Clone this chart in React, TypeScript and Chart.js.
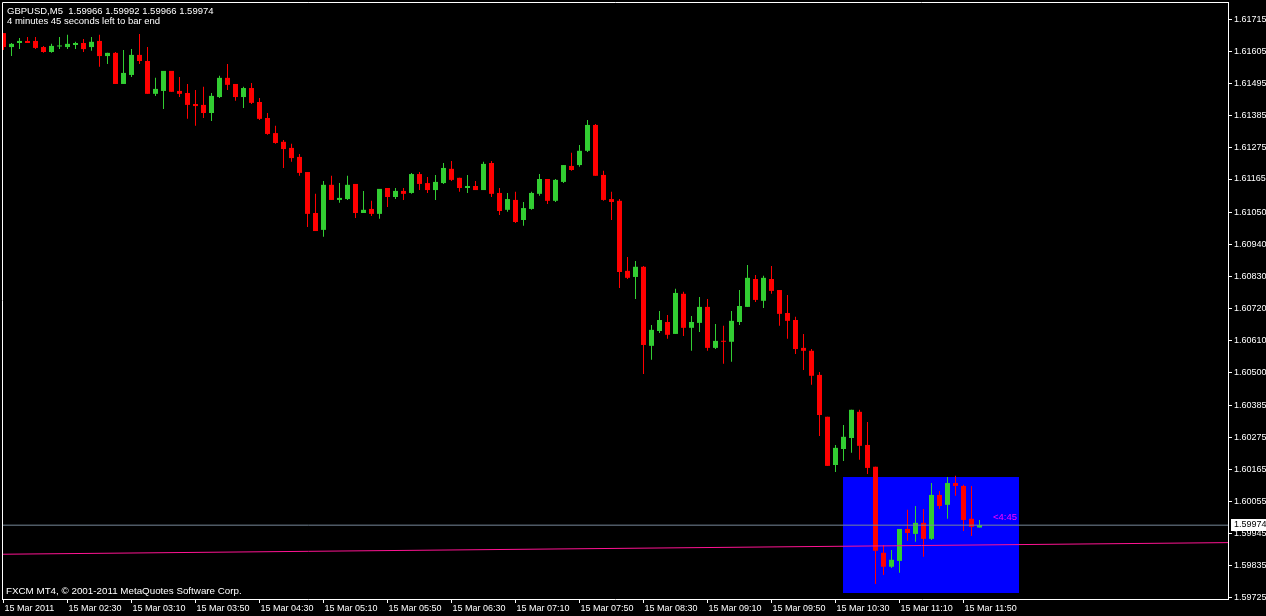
import React, { useEffect, useRef } from "react";
import { Chart, registerables } from "chart.js";

Chart.register(...registerables);

// ---------- data ----------
const SYMBOL = "GBPUSD,M5";

const open = [
  1.61667, 1.61619, 1.61633, 1.6164, 1.6164, 1.61619, 1.61602, 1.61621, 1.61619, 1.61626,
  1.61633, 1.61619, 1.6164, 1.61588, 1.61599, 1.61492, 1.61523, 1.61592, 1.61571, 1.61458,
  1.61468, 1.61537, 1.61468, 1.61461, 1.61423, 1.6142, 1.61392, 1.61447, 1.61513, 1.61492,
  1.61447, 1.61478, 1.6143, 1.61375, 1.61323, 1.61293, 1.61272, 1.61241, 1.61189, 1.61048,
  1.6099, 1.61145, 1.61093, 1.61096, 1.61148, 1.61048, 1.61062, 1.61045, 1.61134, 1.61103,
  1.61124, 1.61117, 1.61182, 1.61151, 1.61127, 1.61151, 1.612, 1.61169, 1.61134, 1.61141,
  1.61127, 1.6122, 1.61117, 1.61059, 1.61093, 1.61024, 1.61062, 1.61114, 1.61165, 1.6109,
  1.61155, 1.6121, 1.61213, 1.61262, 1.61351, 1.61179, 1.61096, 1.6109, 1.60849, 1.60828,
  1.60863, 1.60591, 1.60642, 1.60673, 1.60632, 1.6077, 1.60653, 1.6067, 1.60725, 1.60584,
  1.60608, 1.60605, 1.60673, 1.60725, 1.60821, 1.60746, 1.60821, 1.60783, 1.60704, 1.6068,
  1.60584, 1.60574, 1.60491, 1.60347, 1.60181, 1.60236, 1.60274, 1.60364, 1.6025, 1.60175,
  1.59879, 1.59831, 1.59851, 1.59961, 1.59944, 1.59982, 1.59927, 1.60078, 1.60044, 1.60119,
  1.60109, 1.59996, 1.59966,
];
const high = [
  1.61667, 1.61633, 1.6165, 1.61654, 1.61654, 1.61623, 1.6163, 1.61654, 1.61661, 1.61637,
  1.61647, 1.61654, 1.61661, 1.61599, 1.61602, 1.61609, 1.61612, 1.61664, 1.61619, 1.61513,
  1.61537, 1.61537, 1.61516, 1.61492, 1.61471, 1.61482, 1.61461, 1.6152, 1.61561, 1.61492,
  1.61482, 1.61495, 1.61444, 1.61392, 1.61348, 1.61299, 1.61286, 1.61251, 1.61189, 1.61114,
  1.61158, 1.61176, 1.61151, 1.61176, 1.61148, 1.61124, 1.6109, 1.61131, 1.61134, 1.61134,
  1.61134, 1.61186, 1.61189, 1.61172, 1.61179, 1.6122, 1.61227, 1.61169, 1.61179, 1.61158,
  1.61224, 1.61227, 1.61134, 1.61117, 1.61121, 1.61086, 1.61121, 1.61182, 1.61165, 1.61165,
  1.61213, 1.61255, 1.61282, 1.61368, 1.61354, 1.61193, 1.61121, 1.61096, 1.60897, 1.60883,
  1.60866, 1.60663, 1.60711, 1.60697, 1.60787, 1.60777, 1.60694, 1.60759, 1.60752, 1.60666,
  1.6066, 1.60711, 1.60783, 1.60869, 1.60835, 1.60832, 1.60866, 1.60783, 1.60766, 1.60691,
  1.60632, 1.6058, 1.60501, 1.60347, 1.6025, 1.60319, 1.60371, 1.60371, 1.60329, 1.60175,
  1.59906, 1.59889, 1.59961, 1.60027, 1.6004, 1.6003, 1.60119, 1.60092, 1.6014, 1.60144,
  1.60113, 1.60109, 1.59992,
];
const low = [
  1.61609, 1.61588, 1.61612, 1.61633, 1.61612, 1.61599, 1.61599, 1.61612, 1.61612, 1.61612,
  1.61602, 1.61606, 1.61551, 1.61561, 1.61492, 1.61492, 1.61516, 1.61561, 1.61458, 1.61451,
  1.61406, 1.61465, 1.61447, 1.61372, 1.61348, 1.61375, 1.61365, 1.61444, 1.61471, 1.61434,
  1.61409, 1.61423, 1.61368, 1.61317, 1.61286, 1.61203, 1.61224, 1.61176, 1.61, 1.60986,
  1.60966, 1.61093, 1.61083, 1.61093, 1.61031, 1.61048, 1.61038, 1.61028, 1.61069, 1.61096,
  1.61093, 1.61114, 1.61127, 1.61117, 1.61093, 1.61148, 1.61158, 1.61121, 1.61117, 1.61127,
  1.61127, 1.61103, 1.61041, 1.61052, 1.61014, 1.61004, 1.61059, 1.61107, 1.61079, 1.61086,
  1.61151, 1.61193, 1.61207, 1.61258, 1.61176, 1.6109, 1.61024, 1.6079, 1.60821, 1.60752,
  1.60494, 1.60543, 1.60635, 1.60615, 1.60632, 1.60625, 1.60574, 1.60639, 1.60574, 1.6058,
  1.60529, 1.60536, 1.60663, 1.60725, 1.60742, 1.60721, 1.6077, 1.6066, 1.60615, 1.60563,
  1.60508, 1.60457, 1.60281, 1.60178, 1.60157, 1.60195, 1.60223, 1.60199, 1.6015, 1.59772,
  1.59803, 1.59827, 1.5981, 1.5992, 1.59917, 1.59865, 1.59923, 1.6003, 1.59996, 1.60075,
  1.59954, 1.59937, 1.59966,
];
const close = [
  1.61619, 1.6163, 1.6164, 1.61633, 1.61616, 1.61602, 1.61623, 1.61623, 1.6163, 1.61633,
  1.61612, 1.61637, 1.61588, 1.61599, 1.61492, 1.6153, 1.61592, 1.61571, 1.61458, 1.61475,
  1.61537, 1.61465, 1.61458, 1.6142, 1.61416, 1.61392, 1.61451, 1.61513, 1.61489, 1.61447,
  1.61478, 1.61427, 1.61372, 1.6132, 1.61289, 1.61268, 1.61237, 1.61186, 1.61045, 1.60986,
  1.61145, 1.61093, 1.611, 1.61145, 1.61048, 1.61059, 1.61045, 1.61131, 1.61103, 1.61124,
  1.61114, 1.61182, 1.61148, 1.61127, 1.61155, 1.61203, 1.61162, 1.61134, 1.61141, 1.61127,
  1.61217, 1.61114, 1.61055, 1.61096, 1.61017, 1.61065, 1.61117, 1.61165, 1.6109, 1.61162,
  1.61213, 1.61196, 1.61262, 1.61351, 1.61176, 1.61093, 1.61086, 1.60845, 1.60825, 1.60863,
  1.60594, 1.60646, 1.6068, 1.60629, 1.60773, 1.60653, 1.60673, 1.60725, 1.60584, 1.60608,
  1.60605, 1.60677, 1.60728, 1.60825, 1.60749, 1.60825, 1.6078, 1.60701, 1.60677, 1.6058,
  1.60574, 1.60488, 1.60353, 1.60178, 1.6024, 1.60278, 1.60371, 1.60247, 1.60171, 1.59886,
  1.59831, 1.59855, 1.59961, 1.59947, 1.59982, 1.59927, 1.60078, 1.6004, 1.60119, 1.60109,
  1.59992, 1.59968, 1.59974,
];

const xTickLabels = [
  "15 Mar 2011", "15 Mar 02:30", "15 Mar 03:10", "15 Mar 03:50", "15 Mar 04:30",
  "15 Mar 05:10", "15 Mar 05:50", "15 Mar 06:30", "15 Mar 07:10", "15 Mar 07:50",
  "15 Mar 08:30", "15 Mar 09:10", "15 Mar 09:50", "15 Mar 10:30", "15 Mar 11:10",
  "15 Mar 11:50",
];
const BARS_PER_LABEL = 8;

const yTickLabels = [
  "1.61715", "1.61605", "1.61495", "1.61385", "1.61275", "1.61165", "1.61050",
  "1.60940", "1.60830", "1.60720", "1.60610", "1.60500", "1.60385", "1.60275",
  "1.60165", "1.60055", "1.59945", "1.59835", "1.59725",
];

const bidPrice = 1.59974;
const trendPrices = [1.59874, 1.59914];
const boxBars = [105, 127];
const boxPrices = [1.60141, 1.59741];
const timeLeftLabel = "<4:45";
const statusText = "4 minutes 45 seconds left to bar end";
const footerText = "FXCM MT4, \u00A9 2001-2011 MetaQuotes Software Corp.";

const X_MIN = -0.1875;
const X_MAX = 153.0625;
const Y_MIN = 1.5972;
const Y_MAX = 1.61774;

// ---------- styles ----------
const BULL = "#32CD32";
const BEAR = "#FF0000";
const FONT = '"Liberation Sans", Arial, sans-serif';

const mt4Plugin = {
  id: "mt4Decor",
  beforeDraw(chart: any) {
    const { ctx, width, height } = chart;
    ctx.save();
    ctx.fillStyle = "#000000";
    ctx.fillRect(0, 0, width, height);
    ctx.restore();
  },
  beforeDatasetsDraw(chart: any) {
    const { ctx, chartArea } = chart;
    const xs = chart.scales.x;
    const ys = chart.scales.y;
    const x0 = Math.floor(xs.getPixelForValue(boxBars[0]));
    const x1 = Math.floor(xs.getPixelForValue(boxBars[1]));
    const y0 = Math.round(ys.getPixelForValue(boxPrices[0]));
    const y1 = Math.round(ys.getPixelForValue(boxPrices[1]));
    ctx.save();
    ctx.beginPath();
    ctx.rect(chartArea.left, chartArea.top, chartArea.right - chartArea.left, chartArea.bottom - chartArea.top);
    ctx.clip();
    ctx.fillStyle = "#0000FF";
    ctx.fillRect(x0, y0, x1 - x0, y1 - y0);
    ctx.restore();
  },
  afterDraw(chart: any) {
    const { ctx, chartArea } = chart;
    const xs = chart.scales.x;
    const ys = chart.scales.y;
    const last = open.length - 1;
    ctx.save();
    // frame (left + top)
    ctx.strokeStyle = "#FFFFFF";
    ctx.lineWidth = 1;
    ctx.beginPath();
    ctx.moveTo(chartArea.left + 0.5, chartArea.bottom);
    ctx.lineTo(chartArea.left + 0.5, chartArea.top + 0.5);
    ctx.lineTo(chartArea.right, chartArea.top + 0.5);
    ctx.stroke();

    // header
    ctx.fillStyle = "#FFFFFF";
    ctx.font = `9.5px ${FONT}`;
    ctx.textAlign = "left";
    ctx.textBaseline = "alphabetic";
    const f = (v: number) => v.toFixed(5);
    ctx.fillText(
      `${SYMBOL}  ${f(open[last])} ${f(high[last])} ${f(low[last])} ${f(close[last])}`,
      7,
      14
    );
    ctx.fillText(statusText, 7, 24);
    ctx.font = `9.8px ${FONT}`;
    ctx.fillText(footerText, 6, 594);

    // bid price label on the axis
    const yb = ys.getPixelForValue(bidPrice);
    const top = Math.round(yb) - 6;
    ctx.fillStyle = "#FFFFFF";
    ctx.fillRect(chartArea.right + 3, top, chart.width - chartArea.right - 3, 12);
    ctx.fillStyle = "#000000";
    ctx.font = `9px ${FONT}`;
    ctx.textBaseline = "middle";
    ctx.fillText(f(bidPrice), chartArea.right + 6, top + 6);

    // time left label
    ctx.fillStyle = "#FF00FF";
    ctx.textBaseline = "alphabetic";
    ctx.font = `9.5px ${FONT}`;
    ctx.fillText(timeLeftLabel, xs.getPixelForValue(last) + 13.5, yb - 5);
    ctx.restore();
  },
};

export default function App() {
  const canvasRef = useRef<HTMLCanvasElement | null>(null);

  useEffect(() => {
    document.body.style.margin = "0";
    document.body.style.background = "#000000";
    const canvas = canvasRef.current;
    if (!canvas) return;

    const idx = open.map((_, i) => i);
    const colors = idx.map((i) => (close[i] >= open[i] ? BULL : BEAR));

    const chart = new Chart(canvas, {
      type: "bar",
      data: {
        datasets: [
          {
            type: "line",
            label: "Bid",
            data: [
              { x: X_MIN, y: bidPrice },
              { x: X_MAX, y: bidPrice },
            ],
            borderColor: "#778899",
            borderWidth: 1,
            pointRadius: 0,
            tension: 0,
            order: 0,
          } as any,
          {
            type: "line",
            label: "Trend",
            data: [
              { x: X_MIN, y: trendPrices[0] },
              { x: X_MAX, y: trendPrices[1] },
            ],
            borderColor: "#FF1493",
            borderWidth: 1,
            pointRadius: 0,
            tension: 0,
            order: 1,
          } as any,
          {
            type: "bar",
            label: "Body",
            data: idx.map((i) => ({ x: i, y: [open[i], close[i]] })),
            backgroundColor: colors,
            borderWidth: 0,
            barThickness: 5,
            minBarLength: 1,
            grouped: false,
            inflateAmount: 0,
            order: 2,
          } as any,
          {
            type: "bar",
            label: "Wick",
            data: idx.map((i) => ({ x: i, y: [low[i], high[i]] })),
            backgroundColor: colors,
            borderWidth: 0,
            barThickness: 1,
            minBarLength: 1,
            grouped: false,
            inflateAmount: 0,
            order: 3,
          } as any,
        ],
      },
      options: {
        responsive: false,
        maintainAspectRatio: false,
        devicePixelRatio: 1,
        animation: false,
        events: [],
        layout: { padding: { left: 2, top: 2, right: 0, bottom: 0 } },
        plugins: {
          legend: { display: false },
          tooltip: { enabled: false },
          title: { display: false },
        },
        scales: {
          x: {
            type: "linear",
            position: "bottom",
            min: X_MIN,
            max: X_MAX,
            offset: false,
            afterBuildTicks: (s: any) => {
              s.ticks = xTickLabels.map((_, k) => ({ value: k * BARS_PER_LABEL }));
            },
            afterFit: (s: any) => {
              s.height = 17;
              s.paddingLeft = 0;
              s.paddingRight = 0;
            },
            grid: {
              display: true,
              drawOnChartArea: false,
              drawTicks: true,
              tickLength: 4,
              tickColor: "#FFFFFF",
              tickWidth: 1,
              offset: false,
            },
            border: { display: true, color: "#FFFFFF", width: 1 },
            ticks: {
              autoSkip: false,
              maxRotation: 0,
              minRotation: 0,
              align: "start",
              labelOffset: 1,
              padding: 0,
              color: "#FFFFFF",
              font: { family: FONT, size: 9 },
              callback: (v: any) => xTickLabels[Math.round(Number(v) / BARS_PER_LABEL)] ?? "",
            },
          },
          y: {
            type: "linear",
            position: "right",
            min: Y_MIN,
            max: Y_MAX,
            beginAtZero: false,
            afterBuildTicks: (s: any) => {
              s.ticks = yTickLabels.map((t) => ({ value: parseFloat(t) }));
            },
            afterFit: (s: any) => {
              s.width = 38;
              s.paddingTop = 0;
              s.paddingBottom = 0;
            },
            grid: {
              display: true,
              drawOnChartArea: false,
              drawTicks: true,
              tickLength: 4,
              tickColor: "#FFFFFF",
              tickWidth: 1,
            },
            border: { display: true, color: "#FFFFFF", width: 1 },
            ticks: {
              autoSkip: false,
              padding: 2,
              color: "#FFFFFF",
              font: { family: FONT, size: 9 },
              callback: (_v: any, i: number) => yTickLabels[i],
            },
          },
        },
      } as any,
      plugins: [mt4Plugin as any],
    });

    return () => {
      chart.destroy();
    };
  }, []);

  return (
    <div style={{ width: 1266, height: 616, background: "#000000" }}>
      <canvas ref={canvasRef} width={1266} height={616} style={{ display: "block" }} />
    </div>
  );
}
